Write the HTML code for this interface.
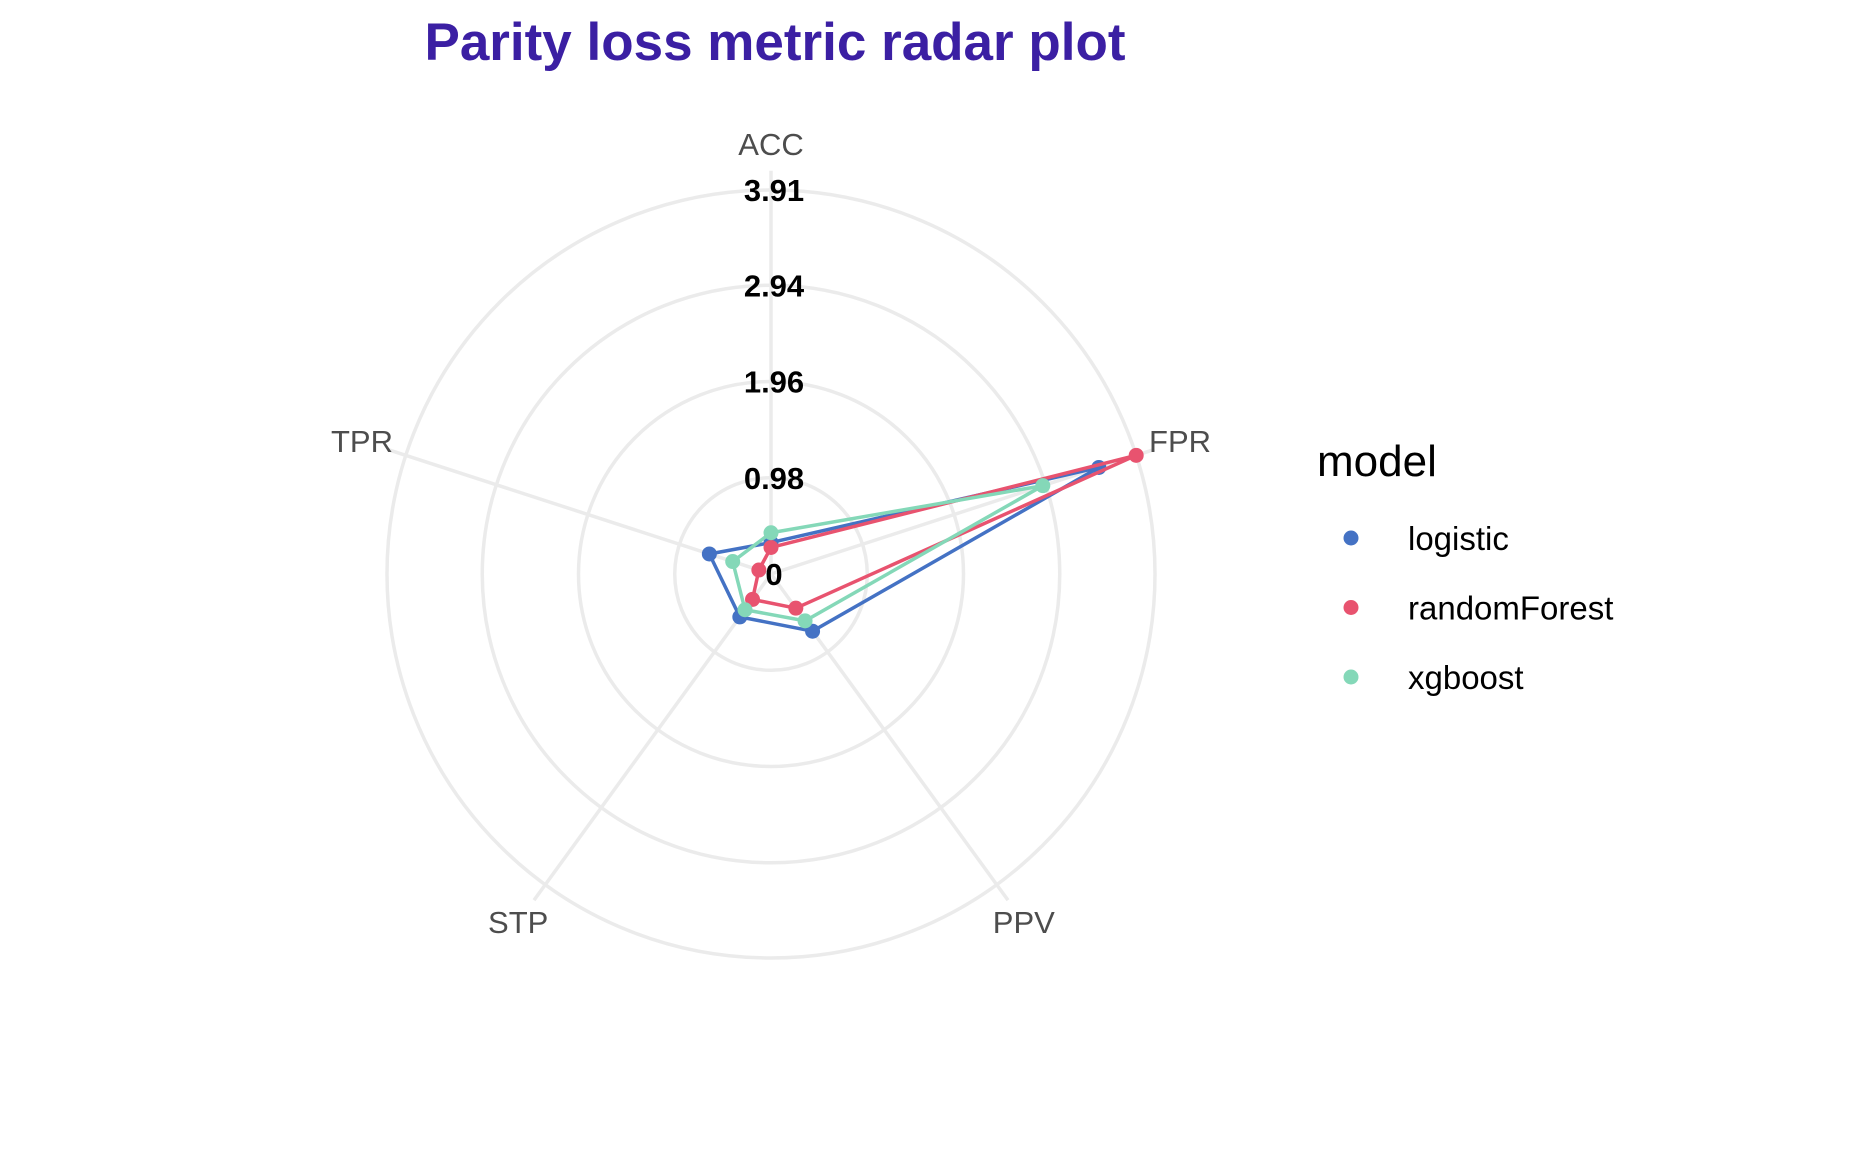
<!DOCTYPE html>
<html><head><meta charset="utf-8"><style>
body{margin:0;background:#fff;}
svg{display:block;font-family:"Liberation Sans",Arial,sans-serif;}
</style></head><body>
<svg id="chart" width="1872" height="1152" viewBox="0 0 1872 1152">
<text x="775" y="60" text-anchor="middle" font-size="53" font-weight="bold" fill="#3b1fa3">Parity loss metric radar plot</text>
<g id="grid"></g>
<g id="series"></g>
<g id="ticks"></g>
<g id="legend">
<text x="1324" y="476" font-size="44" fill="#000">model</text>
</g>
</svg>
<script>
const metrics = ["ACC","FPR","PPV","STP","TPR"];
const models = ["logistic","randomForest","xgboost"];
const logisticVals = [0.32, 3.51, 0.72, 0.54, 0.66];
const randomForestVals = [0.27, 3.91, 0.43, 0.32, 0.13];
const xgboostVals = [0.42, 2.91, 0.59, 0.45, 0.41];
const tickLabels = ["0","0.98","1.96","2.94","3.91"];
const tickValues = [0, 0.98, 1.96, 2.94, 3.91];
const colors = ["#4472c4","#e8536f","#84d8b8"];
const maxV = 3.91, cx = 771, cy = 574, R = 384;
const NS = "http://www.w3.org/2000/svg";
function mk(t, a, p){const e=document.createElementNS(NS,t);for(const k in a)e.setAttribute(k,a[k]);p.appendChild(e);return e;}
function ang(i){return Math.PI/2 - i*2*Math.PI/metrics.length;}
function rs(v){return v/maxV*R;}
function pt(i,v){const a=ang(i),r=rs(v);return [cx+r*Math.cos(a), cy-r*Math.sin(a)];}
const grid=document.getElementById('grid');
for(let k=1;k<tickValues.length;k++){
  const c=mk('circle',{cx:cx,cy:cy,r:rs(tickValues[k]),fill:'none',stroke:'#ebebeb','stroke-width':3.5},grid);
  
  
}
metrics.forEach((m,i)=>{
  const [x,y]=pt(i,maxV*1.05);
  const l=mk('line',{x1:cx,y1:cy,x2:x,y2:y,stroke:'#ebebeb','stroke-width':3.5},grid);
  
  
  const [tx,ty]=pt(i,maxV*1.12);
  const t=mk('text',{x:tx,y:ty+11,'text-anchor':'middle','font-size':31,fill:'#4d4d4d'},grid);
  t.textContent=m;
  
  
});
const ser=document.getElementById('series');
[logisticVals,randomForestVals,xgboostVals].forEach((vals,s)=>{
  const pts=vals.map((v,i)=>pt(i,v));
  const p=mk('polygon',{points:pts.map(q=>q.join(',')).join(' '),fill:'none',stroke:colors[s],'stroke-width':3.5},ser);
  
  
  pts.forEach((q,i)=>{
    const c=mk('circle',{cx:q[0],cy:q[1],r:7.5,fill:colors[s]},ser);
    
    
  });
});
const tk=document.getElementById('ticks');
tickValues.forEach((v,k)=>{
  const t=mk('text',{x:cx+3,y:cy-rs(v)+11,'text-anchor':'middle','font-size':31,'font-weight':'bold',fill:'#000'},tk);
  t.textContent=tickLabels[k];
  
  
});
const lg=document.getElementById('legend');
lg.firstElementChild.setAttribute('x','1317');
models.forEach((m,s)=>{
  const y=538+s*69.5;
  const c=mk('circle',{cx:1351,cy:y,r:7.5,fill:colors[s]},lg);
  
  
  const t=mk('text',{x:1408,y:y+12,'font-size':33,fill:'#000'},lg);
  t.textContent=m;
  
  
});
</script>
</body></html>
